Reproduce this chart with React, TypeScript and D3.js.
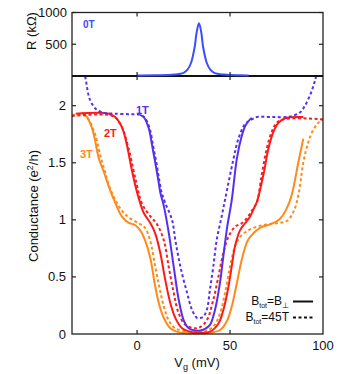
import React from 'react';
import * as d3 from 'd3';

// ---- data ----
const vR0 = [0, 10, 20, 25, 27, 29, 31, 32, 33.3, 34.5, 35.5, 37.5, 39.5, 41.5, 47, 55, 60];
const rR0 = [8, 10, 22, 50, 95, 205, 460, 680, 830, 690, 460, 205, 95, 50, 22, 10, 8];

const v1s = [1.6, 3.6, 6.3, 8.1, 9.8, 11.3, 12.5, 14.4, 17.0, 19.7, 22.4, 25.1, 27.8, 31.3, 33.9, 36.5, 39.2, 41.9, 44.6, 46.4, 48.5, 50.9, 53.6, 55.9, 58.1, 60.8, 61.8];
const g1s = [1.92, 1.90, 1.80, 1.65, 1.50, 1.36, 1.24, 1.12, 0.89, 0.59, 0.30, 0.12, 0.05, 0.03, 0.03, 0.045, 0.08, 0.21, 0.45, 0.68, 0.94, 1.17, 1.53, 1.71, 1.82, 1.88, 1.89];

const v1d = [-29.5, -27.6, -25.3, -21.7, -17.2, -11.8, -3.8, 1.6, 4.3, 6.8, 8.6, 10.4, 11.8, 13.2, 15.1, 18.8, 20.6, 23.3, 26.9, 29.6, 32.3, 33.9, 35.5, 37.5, 39.2, 41.0, 42.8, 45.5, 47.3, 51.8, 54.5, 58.1, 61.7, 64.4, 73.1, 82.3, 87.6, 89.2, 93.0, 95.7, 97.5];
const g1d = [2.40, 2.23, 2.05, 1.965, 1.935, 1.93, 1.925, 1.92, 1.89, 1.80, 1.65, 1.50, 1.36, 1.24, 1.15, 1.00, 0.82, 0.59, 0.36, 0.21, 0.14, 0.14, 0.15, 0.21, 0.39, 0.59, 0.82, 1.03, 1.175, 1.53, 1.71, 1.84, 1.88, 1.90, 1.90, 1.905, 1.94, 1.97, 2.09, 2.22, 2.35];

const v2s = [-33, -15.2, -11.7, -9.0, -7.2, -5.4, -3.6, -1.8, 0, 1.8, 3.6, 7.2, 9.8, 12.5, 15.2, 17.9, 20.6, 24.2, 29.6, 33.9, 39.2, 43.7, 46.4, 49.1, 50.9, 52.7, 55.4, 58.1, 60.8, 63.4, 64.5, 67.9, 70.6, 73.3, 76.0, 79.6, 89.4];
const g2s = [1.93, 1.93, 1.90, 1.84, 1.77, 1.65, 1.50, 1.36, 1.24, 1.14, 1.06, 0.97, 0.88, 0.71, 0.47, 0.27, 0.14, 0.05, 0.015, 0.01, 0.02, 0.09, 0.21, 0.41, 0.59, 0.77, 0.91, 0.97, 1.03, 1.12, 1.16, 1.39, 1.62, 1.77, 1.85, 1.89, 1.90];

const v2d = [-35, -15.6, -11.3, -8.1, -4.5, -0.9, 2.7, 7.2, 10.8, 14.4, 17.0, 19.7, 22.4, 26.0, 31.2, 33.9, 37.5, 41.0, 43.7, 46.4, 49.1, 52.7, 56.3, 59.8, 62.5, 64.4, 67.0, 69.7, 72.4, 75.1, 78.7, 85.9, 100];
const g2d = [1.91, 1.92, 1.89, 1.81, 1.62, 1.36, 1.14, 1.03, 0.96, 0.82, 0.59, 0.36, 0.18, 0.08, 0.05, 0.06, 0.12, 0.30, 0.50, 0.71, 0.85, 0.94, 0.97, 1.03, 1.10, 1.15, 1.39, 1.62, 1.77, 1.85, 1.88, 1.89, 1.88];

const v3s = [-29.7, -26.9, -24.2, -22.4, -20.6, -18.1, -14.5, -11.8, -8.2, -4.7, -1.1, 1.6, 4.3, 7.2, 9.5, 11.7, 14.4, 17.9, 22.4, 31.2, 39.2, 44.6, 48.2, 50.9, 53.6, 56.3, 59.0, 60.8, 66.1, 71.5, 76.9, 80.5, 83.2, 86.7, 89.4];
const g3s = [1.94, 1.90, 1.80, 1.68, 1.54, 1.43, 1.26, 1.15, 1.03, 0.975, 0.955, 0.91, 0.82, 0.66, 0.44, 0.27, 0.14, 0.05, 0.015, 0.005, 0.01, 0.035, 0.11, 0.24, 0.44, 0.65, 0.80, 0.85, 0.93, 0.96, 1.01, 1.10, 1.22, 1.50, 1.71];

const v3d = [-35, -28, -25.1, -22.4, -19.7, -17.4, -14.4, -9.0, -4.5, 0.9, 4.3, 7.0, 9.8, 12.0, 14.4, 17.0, 20.6, 28.5, 35.6, 41.0, 44.6, 47.3, 50.0, 52.7, 55.4, 59.0, 64.4, 69.7, 75.1, 80.5, 84.1, 86.8, 89.4, 92.1, 94.8, 97.5, 100];
const g3d = [1.92, 1.91, 1.85, 1.74, 1.56, 1.43, 1.27, 1.10, 1.02, 0.97, 0.93, 0.82, 0.59, 0.41, 0.24, 0.12, 0.05, 0.02, 0.02, 0.065, 0.18, 0.36, 0.59, 0.77, 0.85, 0.90, 0.94, 0.96, 0.97, 0.99, 1.07, 1.22, 1.50, 1.68, 1.79, 1.85, 1.88];

const xTicks = [0, 50, 100];
const gTicks = [0, 0.5, 1, 1.5, 2];
const rTicks = [500, 1000];

const C0 = '#3a4dff';
const C1 = '#5530f0';
const C2 = '#ff1a1a';
const C3 = '#ff8a1a';

// ---- layout ----
const W = 351, H = 374;
const L = 72, R = 323, T0 = 12.5, B0 = 76, B1 = 334;
const FONT = 'Liberation Sans, Arial, Helvetica, sans-serif';

const x = d3.scaleLinear().domain([-35, 100]).range([L, R]);
const yR = d3.scaleLinear().domain([0, 1000]).range([B0, T0]);
const yG = d3.scaleLinear().domain([0, 2.26]).range([B1, B0]);

const zip = (a: number[], b: number[]) => a.map((v, i) => [v, b[i]] as [number, number]);
const lineG = d3.line<[number, number]>().x(d => x(d[0])).y(d => yG(d[1])).curve(d3.curveCatmullRom.alpha(0.5));
const lineR = d3.line<[number, number]>().x(d => x(d[0])).y(d => yR(d[1])).curve(d3.curveCatmullRom.alpha(0.5));

const series = [
  { v: v3d, g: g3d, c: C3, dash: true },
  { v: v3s, g: g3s, c: C3, dash: false },
  { v: v2d, g: g2d, c: C2, dash: true },
  { v: v2s, g: g2s, c: C2, dash: false },
  { v: v1d, g: g1d, c: C1, dash: true },
  { v: v1s, g: g1s, c: C1, dash: false },
];

const TL = 4;
const AX = '#222';

export default function App() {
  return (
    <svg width={W} height={H} style={{ position: 'absolute', left: 0, top: 0, background: '#fff' }} fontFamily={FONT}>
      <defs>
        <clipPath id="clipG">
          <rect x={L} y={B0} width={R - L} height={B1 - B0 + 1} />
        </clipPath>
      </defs>

      {/* curves bottom */}
      <g clipPath="url(#clipG)" fill="none">
        {series.map((s, i) => (
          <path key={i} d={lineG(zip(s.v, s.g)) || ''} stroke={s.c} strokeWidth={2}
            strokeDasharray={s.dash ? '3,2.5' : undefined} />
        ))}
      </g>

      {/* frames */}
      <rect x={L} y={T0} width={R - L} height={B1 - T0} fill="none" stroke={AX} strokeWidth={1.3} />
      <line x1={L} x2={R} y1={B0} y2={B0} stroke="#111" strokeWidth={2} />

      {/* top panel curve */}
      <path d={lineR(zip(vR0, rR0)) || ''} fill="none" stroke={C0} strokeWidth={2} />

      {/* x ticks */}
      {xTicks.filter(t => t < 100).map(t => (
        <g key={'xt' + t} stroke={AX} strokeWidth={1.2}>
          <line x1={x(t)} x2={x(t)} y1={T0} y2={T0 + TL} />
          <line x1={x(t)} x2={x(t)} y1={B0} y2={B0 - TL} />
          <line x1={x(t)} x2={x(t)} y1={B0} y2={B0 + TL} />
          <line x1={x(t)} x2={x(t)} y1={B1} y2={B1 - TL} />
        </g>
      ))}
      {xTicks.map(t => (
        <text key={'xl' + t} x={x(t)} y={350} fontSize={13} textAnchor="middle" fill="#111">{t}</text>
      ))}

      {/* G ticks */}
      {gTicks.map(t => (
        <g key={'gt' + t}>
          {t > 0 && <line x1={L} x2={L + TL} y1={yG(t)} y2={yG(t)} stroke={AX} strokeWidth={1.2} />}
          {t > 0 && <line x1={R} x2={R - TL} y1={yG(t)} y2={yG(t)} stroke={AX} strokeWidth={1.2} />}
          <text x={66} y={yG(t)} dy="0.35em" fontSize={13} textAnchor="end" fill="#111">{t}</text>
        </g>
      ))}

      {/* R ticks */}
      {rTicks.map(t => (
        <g key={'rt' + t}>
          <line x1={L} x2={L + TL} y1={yR(t)} y2={yR(t)} stroke={AX} strokeWidth={1.2} />
          <line x1={R} x2={R - TL} y1={yR(t)} y2={yR(t)} stroke={AX} strokeWidth={1.2} />
          <text x={67} y={yR(t)} dy="0.35em" fontSize={13} textAnchor="end" fill="#111">{t}</text>
        </g>
      ))}

      {/* axis titles */}
      <text transform="translate(31,31) rotate(-90)" dy="0.35em" fontSize={13} textAnchor="middle" fill="#111">R (kΩ)</text>
      <text transform="translate(33,206) rotate(-90)" dy="0.35em" fontSize={13} textAnchor="middle" fill="#111">
        Conductance  (e<tspan dy={-5} fontSize={9}>2</tspan><tspan dy={5}>/h)</tspan>
      </text>
      <text x={197} y={367} fontSize={13} textAnchor="middle" fill="#111">
        V<tspan dy={3} fontSize={9}>g</tspan><tspan dy={-3}> (mV)</tspan>
      </text>

      {/* curve labels */}
      <text x={83} y={28} fontSize={10} fontWeight="bold" fill={C0}>0T</text>
      <text x={136} y={114} fontSize={11} fontWeight="bold" fill={C1}>1T</text>
      <text x={104} y={137} fontSize={11} fontWeight="bold" fill={C2}>2T</text>
      <text x={80} y={158} fontSize={11} fontWeight="bold" fill={C3}>3T</text>

      {/* legend */}
      <text x={289} y={305} fontSize={12} textAnchor="end" fill="#111">
        B<tspan dy={3} fontSize={7}>tot</tspan><tspan dy={-3}>=B</tspan><tspan dy={3} fontSize={8}>⊥</tspan>
      </text>
      <line x1={293} x2={313} y1={301.5} y2={301.5} stroke="#111" strokeWidth={2} />
      <text x={289} y={321} fontSize={12} textAnchor="end" fill="#111">
        B<tspan dy={3} fontSize={7}>tot</tspan><tspan dy={-3}>=45T</tspan>
      </text>
      <line x1={293} x2={313} y1={317.5} y2={317.5} stroke="#111" strokeWidth={2} strokeDasharray="3,2.5" />
    </svg>
  );
}
